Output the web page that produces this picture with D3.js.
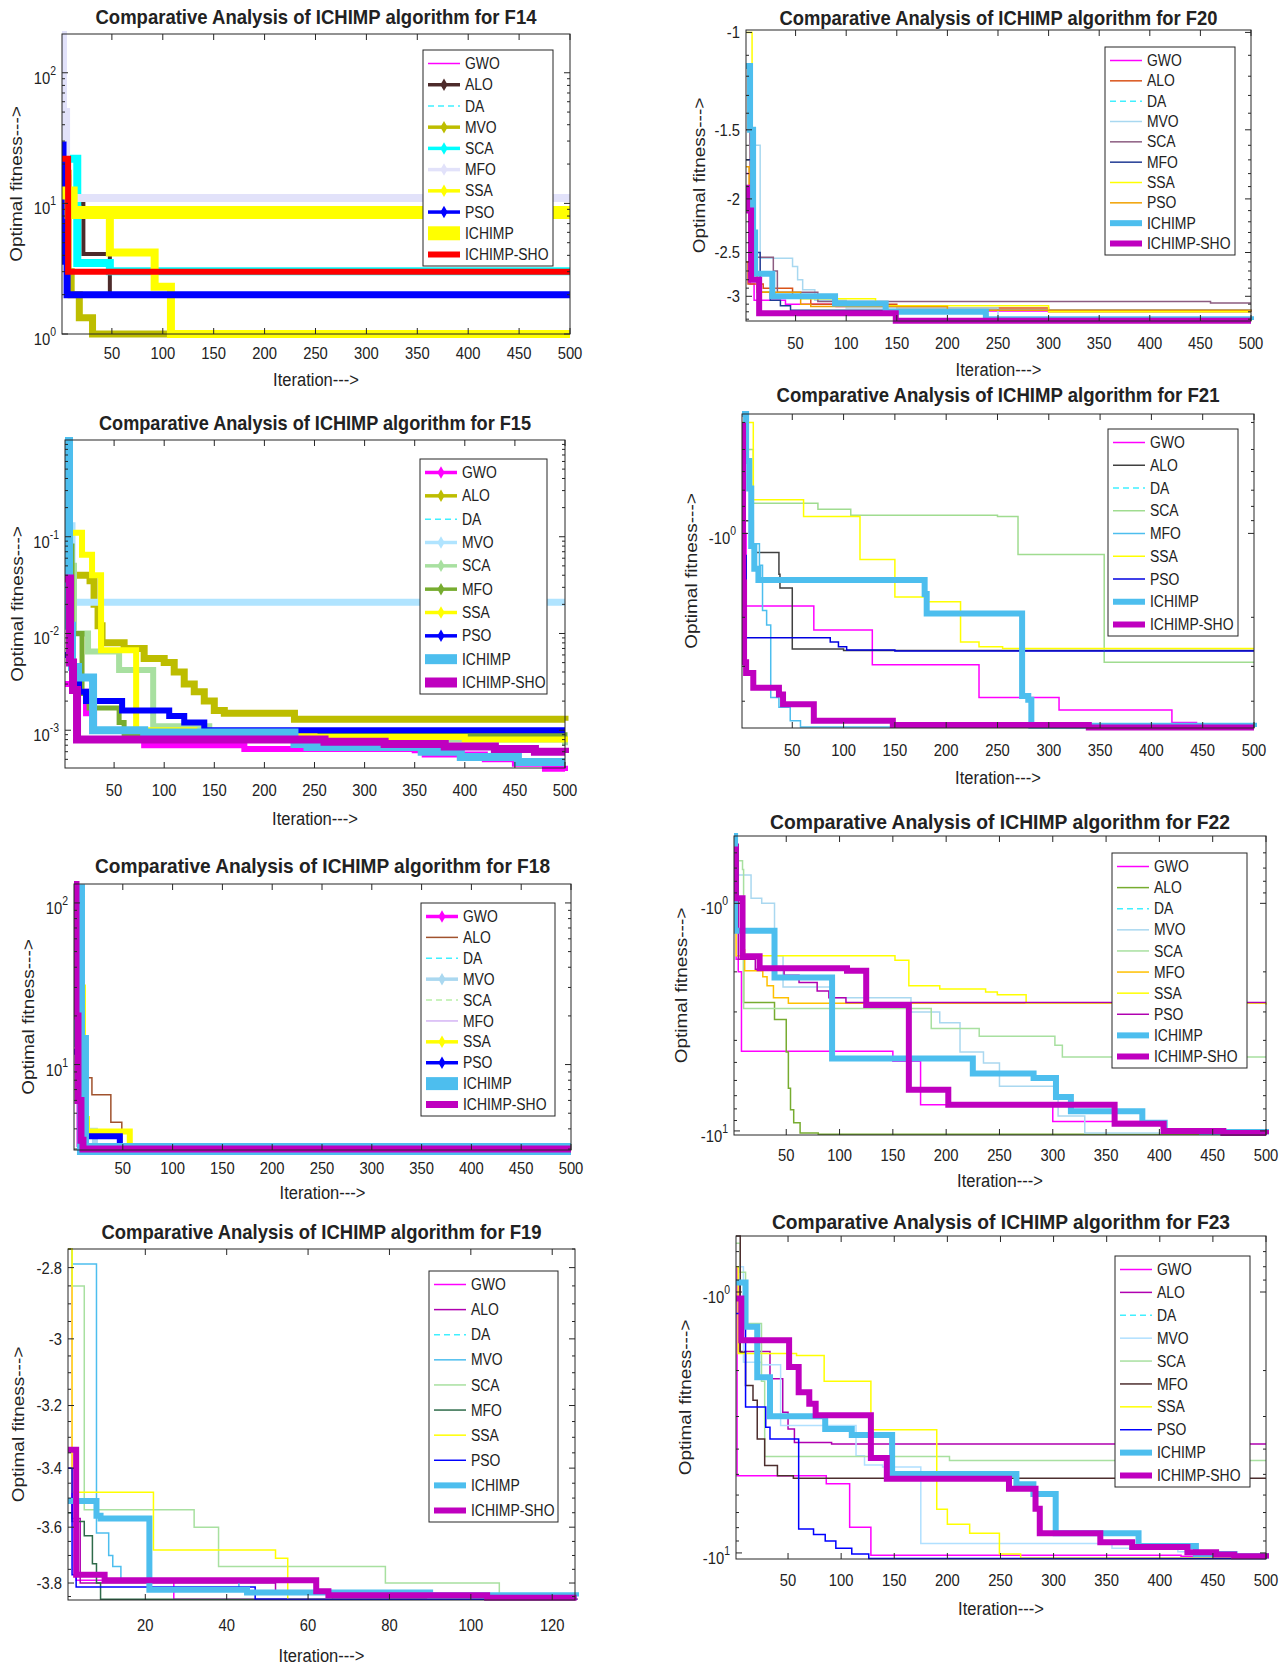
<!DOCTYPE html>
<html>
<head>
<meta charset="utf-8">
<script src="https://cdnjs.cloudflare.com/ajax/libs/d3/7.8.5/d3.min.js"></script>
<style>
  body { margin: 0; background: #fff; }
  svg { display: block; }
  text { font-family: "Liberation Sans", Arial, sans-serif; fill: #222; }
</style>
</head>
<body>
<div id="vis"></div>
<script>
const names10 = ["GWO", "ALO", "DA", "MVO", "SCA", "MFO", "SSA", "PSO", "ICHIMP", "ICHIMP-SHO"];
const names9 = ["GWO", "ALO", "DA", "SCA", "MFO", "SSA", "PSO", "ICHIMP", "ICHIMP-SHO"];
const xTicks500 = [50, 100, 150, 200, 250, 300, 350, 400, 450, 500];
const xTicks19 = [20, 40, 60, 80, 100, 120];

// convergence curves: step breakpoints [iteration, fitness] (negative panels store |fitness|)
// DA is never visible in the figure: it runs under the ICHIMP-SHO curve
const f14 = [
  [[1,60],[3,12],[8,3],[500,3]],
  [[1,16],[8,10],[22,4.1],[48,2.0],[500,2.0]],
  [[1,22],[7,3.0],[500,3.0]],
  [[1,17],[7,3],[10,2],[18,1.33],[31,1.0],[500,1.0]],
  [[1,22],[16,3.5],[48,3.02],[500,3.02]],
  [[1,198],[2,50],[5,11],[500,11]],
  [[1,11],[5,8.5],[48,4.2],[92,2.3],[108,1.0],[500,1.0]],
  [[1,28],[2,8],[3,3.6],[6,2.0],[500,2.0]],
  [[1,12],[10,8.5],[500,8.5]],
  [[1,22],[7,3.0],[500,3.0]]
];
const f15 = [
  [[1,0.003],[12,0.0025],[22,0.0015],[30,0.001],[80,0.0007],[180,0.00064],[350,0.00062],[360,0.00056],[420,0.0005],[450,0.00045],[480,0.0004],[500,0.00038]],
  [[1,0.07],[5,0.04],[26,0.035],[30,0.02],[34,0.012],[38,0.008],[60,0.007],[80,0.0055],[100,0.005],[110,0.004],[120,0.003],[130,0.0025],[140,0.002],[150,0.0016],[160,0.0015],[230,0.0013],[500,0.00125]],
  [[1,0.037],[6,0.005],[9,0.0026],[13,0.0008],[230,0.0008],[260,0.00076],[320,0.00072],[380,0.00068],[430,0.00064],[470,0.0006],[500,0.00058]],
  [[1,0.13],[8,0.021],[500,0.021]],
  [[1,0.12],[5,0.05],[10,0.01],[24,0.0065],[55,0.0042],[89,0.0011],[145,0.0008],[500,0.0007]],
  [[1,0.08],[8,0.01],[18,0.0024],[25,0.0017],[55,0.0012],[60,0.0009],[500,0.0008]],
  [[1,0.12],[6,0.11],[18,0.065],[28,0.04],[37,0.0067],[72,0.001],[130,0.0009],[250,0.00085],[400,0.0008],[500,0.00075]],
  [[1,0.006],[8,0.004],[15,0.0025],[22,0.002],[58,0.0016],[105,0.0014],[120,0.0012],[140,0.001],[500,0.001]],
  [[1,1],[5,0.012],[8,0.0045],[14,0.0035],[29,0.001],[80,0.00095],[230,0.00072],[243,0.00067],[357,0.0006],[396,0.00053],[453,0.00047],[500,0.00047]],
  [[1,0.037],[6,0.005],[9,0.0026],[13,0.0008],[230,0.0008],[260,0.00076],[320,0.00072],[380,0.00068],[430,0.00064],[470,0.0006],[500,0.00058]]
];
const f18 = [
  [[1,24],[6,3.2],[10,3.0],[500,3.0]],
  [[1,40],[8,8.3],[19,6.5],[38,4.4],[49,3.0],[500,3.0]],
  [[1,130],[3,20],[5,6],[8,3.4],[10,3.0],[500,3.0]],
  [[1,25],[8,4.5],[14,3.9],[22,3.0],[500,3.0]],
  [[1,120],[6,14],[10,3.0],[500,3.0]],
  [[1,120],[6,14],[10,3.0],[500,3.0]],
  [[1,30],[10,10],[11,4.6],[14,3.85],[57,3.0],[500,3.0]],
  [[1,12],[10,3.6],[47,3.0],[500,3.0]],
  [[1,120],[6,14],[10,3.0],[500,3.0]],
  [[1,130],[3,20],[5,6],[8,3.4],[10,3.0],[500,3.0]]
];
const f19 = [
  [[1,2.75],[2,3.4],[3,3.79],[27,3.86],[126,3.862]],
  [[1,3.4],[2,3.57],[4,3.8],[52,3.83],[66,3.86],[126,3.862]],
  [[1,3.34],[3,3.77],[10,3.79],[62,3.83],[65,3.845],[104,3.855],[126,3.855]],
  [[1,2.75],[2,2.79],[8,3.62],[11,3.7],[12,3.74],[14,3.79],[43,3.83],[88,3.84],[126,3.845]],
  [[1,2.75],[2,2.85],[5,3.54],[32,3.6],[38,3.74],[79,3.8],[107,3.845],[126,3.845]],
  [[1,3.55],[2,3.58],[5,3.63],[7,3.73],[8,3.8],[9,3.86],[126,3.862]],
  [[1,2.75],[2,3.48],[22,3.68],[52,3.71],[55,3.86],[126,3.862]],
  [[1,3.4],[2,3.77],[3,3.815],[47,3.86],[126,3.862]],
  [[1,3.51],[8,3.56],[9,3.57],[21,3.825],[45,3.835],[90,3.845],[126,3.85]],
  [[1,3.34],[3,3.77],[10,3.79],[62,3.83],[65,3.845],[104,3.855],[126,3.855]]
];
const f20 = [
  [[1,1.8],[5,2.85],[9,3.05],[40,3.1],[90,3.13],[200,3.19],[500,3.2]],
  [[1,2.6],[3,2.85],[18,2.9],[47,3.0],[65,3.1],[150,3.15],[300,3.2],[500,3.2]],
  [[1,1.91],[2,2.1],[6,2.8],[14,3.22],[149,3.32],[500,3.32]],
  [[1,1.3],[5,1.6],[15,2.56],[47,2.65],[52,2.8],[57,2.92],[69,3.05],[100,3.15],[250,3.3],[500,3.3]],
  [[1,1.5],[5,2.55],[28,2.7],[32,2.95],[72,3.065],[460,3.085],[500,3.085]],
  [[1,1.7],[8,2.5],[15,2.95],[25,3.05],[35,3.12],[45,3.18],[500,3.2]],
  [[1,1.0],[7,1.5],[9,2.6],[12,2.95],[30,2.98],[55,3.03],[129,3.12],[300,3.2],[500,3.2]],
  [[1,1.75],[4,2.5],[12,2.95],[55,3.1],[65,3.13],[200,3.18],[500,3.2]],
  [[1,1.15],[5,1.5],[8,2.3],[10,2.73],[27,3.0],[89,3.09],[139,3.2],[238,3.3],[500,3.31]],
  [[1,1.91],[2,2.1],[6,2.8],[14,3.22],[149,3.32],[500,3.32]]
];
const f21 = [
  [[1,1.0],[5,1.82],[71,2.22],[128,2.96],[232,3.88],[310,4.3],[420,4.77],[444,4.83],[500,4.83]],
  [[1,0.9],[12,1.17],[37,1.4],[38,1.57],[50,2.6],[100,2.63],[500,2.63]],
  [[1,0.41],[2,1.5],[3,2.9],[5,3.17],[12,3.58],[37,3.78],[41,4.1],[71,4.7],[148,4.87],[339,4.97],[500,4.97]],
  [[1,0.5],[12,0.78],[75,0.82],[107,0.86],[250,0.87],[270,1.19],[354,2.9],[500,2.9]],
  [[1,0.5],[7,0.65],[10,1.09],[18,1.3],[21,1.89],[25,2.13],[29,3.88],[37,4.2],[48,4.7],[58,4.95],[500,4.97]],
  [[1,0.4],[12,0.757],[61,0.87],[116,1.24],[150,1.69],[180,1.76],[214,2.45],[232,2.55],[255,2.59],[500,2.59]],
  [[1,1.2],[5,2.37],[87,2.45],[95,2.55],[103,2.62],[150,2.64],[500,2.64]],
  [[1,0.373],[5,0.55],[8,0.69],[10,1.11],[13,1.34],[17,1.47],[179,1.65],[181,1.94],[274,3.83],[280,3.95],[283,4.9],[500,4.95]],
  [[1,0.41],[2,1.5],[3,2.9],[5,3.17],[12,3.58],[37,3.78],[41,4.1],[71,4.7],[148,4.87],[339,4.97],[500,4.97]]
];
const f22 = [
  [[1,0.6],[3,1.76],[5,2.0],[8,4.47],[150,4.94],[176,7.67],[300,9.1],[402,9.9],[480,10.2],[500,10.3]],
  [[1,0.6],[5,1.0],[10,2.73],[39,3.24],[50,4.5],[52,6.5],[54,8.07],[57,9.2],[63,10.2],[80,10.35],[500,10.4]],
  [[1,0.58],[2,0.95],[9,1.71],[25,1.93],[107,1.98],[125,2.8],[165,6.6],[202,7.67],[358,9.3],[404,10.0],[460,10.2],[500,10.35]],
  [[1,0.55],[4,0.75],[17,0.95],[27,1.0],[39,1.7],[47,2.33],[95,2.6],[167,3.0],[194,3.35],[213,4.5],[235,5.03],[250,6.37],[305,8.6],[330,10.2],[500,10.38]],
  [[1,0.65],[9,0.71],[10,2.9],[186,3.55],[231,3.84],[302,4.2],[309,4.73],[500,4.73]],
  [[1,0.6],[4,0.95],[8,1.6],[11,1.98],[28,2.1],[32,2.3],[38,2.6],[52,2.75],[500,2.78]],
  [[1,0.6],[3,1.7],[152,1.78],[165,2.3],[194,2.38],[237,2.45],[248,2.52],[275,2.75],[500,2.75]],
  [[1,0.55],[5,1.76],[21,1.95],[48,2.07],[62,2.23],[79,2.43],[90,2.6],[106,2.73],[500,2.73]],
  [[1,0.506],[2,1.32],[39,2.12],[93,4.8],[225,5.6],[282,5.85],[303,7.1],[317,8.2],[384,9.2],[405,10.0],[440,10.1],[500,10.35]],
  [[1,0.58],[2,0.95],[9,1.71],[25,1.93],[107,1.98],[125,2.8],[165,6.6],[202,7.67],[358,9.3],[404,10.0],[460,10.2],[500,10.35]]
];
const f23 = [
  [[1,0.8],[2,5.06],[86,5.43],[108,7.98],[128,10.2],[420,10.3],[500,10.5]],
  [[1,0.9],[4,1.69],[33,2.15],[45,2.89],[50,3.35],[56,3.77],[91,3.82],[500,3.82]],
  [[1,1.06],[6,1.53],[51,1.94],[60,2.42],[70,2.68],[76,2.97],[128,4.33],[143,5.2],[258,5.67],[283,6.77],[287,8.4],[344,9.1],[374,9.5],[426,9.95],[453,10.15],[470,10.3],[500,10.5]],
  [[1,0.8],[8,1.86],[25,1.9],[43,3.25],[114,4.24],[122,4.6],[139,4.68],[175,9.2],[355,9.6],[417,9.9],[473,10.3],[500,10.5]],
  [[1,0.65],[5,0.84],[10,1.32],[25,2.2],[28,4.27],[202,4.42],[500,4.42]],
  [[1,0.61],[5,1.7],[10,2.28],[17,2.6],[21,3.66],[28,4.62],[40,5.06],[55,5.17],[500,5.17]],
  [[1,0.8],[3,1.72],[58,1.75],[84,2.2],[128,3.37],[190,6.8],[200,7.76],[221,8.4],[249,10.1],[269,10.45],[500,10.5]],
  [[1,1.21],[10,2.76],[29,3.3],[33,3.66],[60,8.1],[74,8.5],[85,9.0],[95,9.6],[110,10.1],[126,10.5],[500,10.52]],
  [[1,0.92],[10,1.36],[21,2.12],[33,2.99],[85,3.35],[110,3.53],[148,4.98],[265,5.45],[281,5.94],[302,8.4],[380,9.4],[434,10.1],[470,10.3],[500,10.5]],
  [[1,1.06],[6,1.53],[51,1.94],[60,2.42],[70,2.68],[76,2.97],[128,4.33],[143,5.2],[258,5.67],[283,6.77],[287,8.4],[344,9.1],[374,9.5],[426,9.95],[453,10.15],[470,10.3],[500,10.5]]
];

// y tick values per panel
const f14YTicks = [1, 10, 100];
const f15YTicks = [0.001, 0.01, 0.1];
const f18YTicks = [10, 100];
const f19YTicks = [2.8, 3, 3.2, 3.4, 3.6, 3.8];
const f20YTicks = [1, 1.5, 2, 2.5, 3];
const f21YTicks = [1];
const f22YTicks = [1, 10];
const f23YTicks = [1, 10];

// ---------- styles ----------
const DA = { c: "#40f0ff", w: 1.5, d: "6,4" };
const thinSet = (cols, ichimpW, shoW) => cols.map(c => c === "DA" ? DA : { c: c, w: 1.5 })
  .concat([{ c: "#4dbeee", w: ichimpW }, { c: "#bf00bf", w: shoW }]);

const s14 = [
  { c: "#ff00ff", w: 1.5 }, { c: "#4d2b2b", w: 4, m: 1 }, DA, { c: "#bdbd00", w: 7, m: 1 },
  { c: "#00ffff", w: 8, m: 1 }, { c: "#e2e2fa", w: 8, m: 1 }, { c: "#ffff00", w: 8, m: 1 },
  { c: "#0000ff", w: 7, m: 1 }, { c: "#ffff00", w: 13, lw: 14 }, { c: "#ff0000", w: 6 }
];
const s15 = [
  { c: "#ff00ff", w: 6, m: 1 }, { c: "#bdbd00", w: 7, m: 1 }, DA, { c: "#b0e4ff", w: 7, m: 1 },
  { c: "#a8e0a0", w: 6, m: 1 }, { c: "#77ac30", w: 5, m: 1 }, { c: "#ffff00", w: 6, m: 1 },
  { c: "#0000ff", w: 6, m: 1 }, { c: "#4dbeee", w: 8, lw: 10 }, { c: "#bf00bf", w: 8, lw: 10 }
];
const s18 = [
  { c: "#ff00ff", w: 5, m: 1 }, { c: "#a0522d", w: 1.5 }, DA, { c: "#aad8f0", w: 6, m: 1 },
  { c: "#b8f0a8", w: 1.5, d: "6,4" }, { c: "#d4b4f4", w: 1.5 }, { c: "#ffff00", w: 6, m: 1 },
  { c: "#0000ff", w: 6, m: 1 }, { c: "#4dbeee", w: 12, lw: 13 }, { c: "#bf00bf", w: 7 }
];
const s19 = thinSet(["#ff00ff", "#b000b0", "DA", "#4dbeee", "#a8e0a0", "#2e6b4a", "#ffff00", "#0000ff"], 6, 6);
const s20 = thinSet(["#ff00ff", "#d95319", "DA", "#a8d8f0", "#8c5c80", "#1f3a93", "#ffff00", "#f0a000"], 6, 6);
const s21 = thinSet(["#ff00ff", "#404040", "DA", "#a0dc90", "#4dbeee", "#ffff00", "#0000e0"], 6, 6);
const s22 = thinSet(["#ff00ff", "#77ac30", "DA", "#aad8f0", "#a8e0a0", "#ffc000", "#ffff00", "#b000b0"], 6, 6);
const s23 = thinSet(["#ff00ff", "#b000b0", "DA", "#b0e0ff", "#a8e0a0", "#4d2e2e", "#ffff00", "#0000ff"], 6, 6);

const panels = [
  { id: "F14", names: names10, data: f14, st: s14, box: [62, 34, 570, 334], leg: [423, 50, 553, 266],
    xd: [1, 500], xt: xTicks500, yd: [1, 198], yt: f14YTicks, fmt: "pow", neg: false, minor: "log",
    ty: 17, tw: 441, tdy: 19, ldy: 45, ylx: 16 },
  { id: "F20", names: names10, data: f20, st: s20, box: [746, 30, 1251, 321], leg: [1105, 47, 1235, 255],
    xd: [1, 500], xt: xTicks500, yd: [0.99, 3.325], yt: f20YTicks, fmt: "neg", neg: true, minor: 0.1,
    ty: 18, tw: 438, tdy: 22, ldy: 48, ylx: 699 },
  { id: "F15", names: names10, data: f15, st: s15, box: [65, 440, 565, 768], leg: [420, 459, 547, 694],
    xd: [1, 500], xt: xTicks500, yd: [4.07e-4, 1], yt: f15YTicks, fmt: "pow", neg: false, minor: "log",
    ty: 423, tw: 432, tdy: 22, ldy: 50, ylx: 17 },
  { id: "F21", names: names9, data: f21, st: s21, box: [742, 414, 1254, 728], leg: [1108, 429, 1238, 636],
    xd: [1, 500], xt: xTicks500, yd: [0.373, 4.99], yt: f21YTicks, fmt: "negpow", neg: true, minor: "log",
    ty: 395, tw: 443, tdy: 22, ldy: 49, ylx: 691 },
  { id: "F18", names: names10, data: f18, st: s18, box: [74, 884, 571, 1150], leg: [421, 903, 555, 1116],
    xd: [1, 500], xt: xTicks500, yd: [2.96, 131], yt: f18YTicks, fmt: "pow", neg: false, minor: "log",
    ty: 866, tw: 455, tdy: 18, ldy: 42, ylx: 28 },
  { id: "F22", names: names10, data: f22, st: s22, box: [734, 836, 1266, 1135], leg: [1112, 853, 1247, 1068],
    xd: [1, 500], xt: xTicks500, yd: [0.506, 10.42], yt: f22YTicks, fmt: "negpow", neg: true, minor: "log",
    ty: 822, tw: 460, tdy: 20, ldy: 45, ylx: 681 },
  { id: "F19", names: names10, data: f19, st: s19, box: [68, 1249, 575, 1600], leg: [429, 1271, 558, 1522],
    xd: [1, 125.6], xt: xTicks19, yd: [2.75, 3.863], yt: f19YTicks, fmt: "neg", neg: true, minor: 0.05,
    ty: 1232, tw: 440, tdy: 25, ldy: 55, ylx: 18 },
  { id: "F23", names: names10, data: f23, st: s23, box: [736, 1236, 1266, 1559], leg: [1115, 1256, 1250, 1487],
    xd: [1, 500], xt: xTicks500, yd: [0.61, 10.55], yt: f23YTicks, fmt: "negpow", neg: true, minor: "log",
    ty: 1222, tw: 458, tdy: 21, ldy: 49, ylx: 685 }
];

const svg = d3.select("#vis").append("svg").attr("width", 1287).attr("height", 1667)
  .style("background", "#fff");
const AX = "#262626";

function narrowText(g, x, y, str, size, anchor) {
  return g.append("text")
    .attr("transform", "translate(" + x + "," + y + ") scale(0.87,1)")
    .attr("text-anchor", anchor || "middle")
    .attr("dy", "0.35em")
    .attr("font-size", size)
    .text(str);
}

function drawPanel(p) {
  const [L, T, R, B] = p.box;
  const x = d3.scaleLinear().domain(p.xd).range([L, R]);
  const y = d3.scaleLog().domain(p.yd).range(p.neg ? [T, B] : [B, T]);
  const g = svg.append("g").attr("id", p.id);

  g.append("rect").attr("x", L).attr("y", T).attr("width", R - L).attr("height", B - T).attr("fill", "#fff");

  svg.append("clipPath").attr("id", "clip" + p.id)
    .append("rect").attr("x", L).attr("y", T - 3).attr("width", R - L + 4).attr("height", B - T + 8);

  const line = d3.line().x(d => x(d[0])).y(d => y(d[1])).curve(d3.curveStepAfter);
  const lines = g.append("g").attr("clip-path", "url(#clip" + p.id + ")");
  p.data.forEach((pts, i) => {
    const s = p.st[i];
    lines.append("path")
      .attr("d", line(pts))
      .attr("fill", "none")
      .attr("stroke", s.c)
      .attr("stroke-width", s.w)
      .attr("stroke-dasharray", s.d || null);
  });

  // minor ticks
  let minors = [];
  if (p.minor === "log") {
    const e0 = Math.floor(Math.log10(p.yd[0])), e1 = Math.ceil(Math.log10(p.yd[1]));
    for (let e = e0; e <= e1; e++) for (let k = 2; k <= 9; k++) {
      const v = k * Math.pow(10, e);
      if (v > p.yd[0] && v < p.yd[1]) minors.push(v);
    }
  } else {
    minors = d3.range(Math.ceil(p.yd[0] / p.minor) * p.minor, p.yd[1], p.minor)
      .filter(v => !p.yt.some(t => Math.abs(t - v) < 1e-6));
  }
  const tk = g.append("g").attr("stroke", AX).attr("stroke-width", 1);
  minors.forEach(v => {
    const yy = y(v);
    tk.append("line").attr("x1", L).attr("x2", L + 3).attr("y1", yy).attr("y2", yy);
    tk.append("line").attr("x1", R).attr("x2", R - 3).attr("y1", yy).attr("y2", yy);
  });
  p.yt.forEach(v => {
    const yy = y(v);
    tk.append("line").attr("x1", L).attr("x2", L + 6).attr("y1", yy).attr("y2", yy);
    tk.append("line").attr("x1", R).attr("x2", R - 6).attr("y1", yy).attr("y2", yy);
  });
  p.xt.forEach(v => {
    const xx = x(v);
    tk.append("line").attr("x1", xx).attr("x2", xx).attr("y1", B).attr("y2", B - 6);
    tk.append("line").attr("x1", xx).attr("x2", xx).attr("y1", T).attr("y2", T + 6);
  });

  g.append("rect").attr("x", L).attr("y", T).attr("width", R - L).attr("height", B - T)
    .attr("fill", "none").attr("stroke", AX).attr("stroke-width", 1);

  // tick labels
  p.xt.forEach(v => narrowText(g, x(v), B + p.tdy, v, 17));
  p.yt.forEach(v => {
    if (p.fmt === "neg") {
      narrowText(g, L - 6, y(v), "-" + v, 17, "end");
    } else {
      const t = narrowText(g, L - 6, y(v) + 5, "", 17, "end");
      t.append("tspan").text(p.fmt === "negpow" ? "-10" : "10");
      t.append("tspan").attr("font-size", 12).attr("dy", "-0.75em").text(Math.round(Math.log10(v)));
    }
  });

  // title and axis labels
  g.append("text").attr("x", (L + R) / 2).attr("y", p.ty).attr("dy", "0.35em")
    .attr("text-anchor", "middle").attr("font-size", 21).attr("font-weight", "bold").attr("fill", "#000")
    .attr("textLength", p.tw).attr("lengthAdjust", "spacingAndGlyphs")
    .text("Comparative Analysis of ICHIMP algorithm for " + p.id);
  narrowText(g, (L + R) / 2, B + p.ldy, "Iteration--->", 19);
  g.append("text")
    .attr("transform", "translate(" + p.ylx + "," + ((T + B) / 2) + ") rotate(-90) scale(1,0.87)")
    .attr("text-anchor", "middle").attr("dy", "0.35em").attr("font-size", 19)
    .text("Optimal fitness--->");

  // legend
  const [lx0, ly0, lx1, ly1] = p.leg;
  const lg = g.append("g");
  lg.append("rect").attr("x", lx0).attr("y", ly0).attr("width", lx1 - lx0).attr("height", ly1 - ly0)
    .attr("fill", "#fff").attr("stroke", AX).attr("stroke-width", 1);
  const n = p.names.length;
  const rowY = d3.scaleLinear().domain([0, n - 1]).range([ly0 + 13.5, ly1 - 11.5]);
  p.names.forEach((name, i) => {
    const s = p.st[i];
    const yy = rowY(i);
    lg.append("line").attr("x1", lx0 + 5).attr("x2", lx0 + 37).attr("y1", yy).attr("y2", yy)
      .attr("stroke", s.c).attr("stroke-width", s.lw || (s.m ? 3.5 : s.w))
      .attr("stroke-dasharray", s.d || null);
    if (s.m) {
      lg.append("path").attr("d", d3.symbol(d3.symbolDiamond, 45)())
        .attr("transform", "translate(" + (lx0 + 21) + "," + yy + ")").attr("fill", s.c);
    }
    narrowText(lg, lx0 + 42, yy, name, 16, "start");
  });
}

panels.forEach(drawPanel);
</script>
</body>
</html>
